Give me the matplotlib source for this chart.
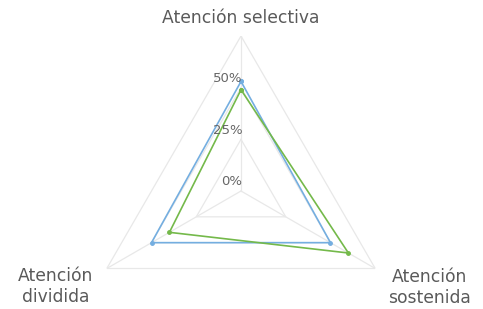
import numpy as np
import matplotlib.pyplot as plt

# categories clockwise from the top
categories = ['Atención selectiva', 'Atención\nsostenida', 'Atención\ndividida']
blue_values = [53, 50, 50]
green_values = [49, 60, 40]
ring_levels = [25, 50, 75]
tick_labels = ['0%', '25%', '50%']
tick_values = [0, 25, 50]

blue = '#74aee0'
green = '#74b94a'
grid_color = '#e8e8e8'
text_color = '#5a5a5a'

theta = np.deg2rad([0, 120, 240])
closed = np.append(theta, theta[0])

fig = plt.figure(figsize=(4.83, 3.09), dpi=100)
R_px = 155
cx, cy = 241, 191
ax = fig.add_axes([(cx - R_px) / 483, (309 - cy - R_px) / 309,
                   2 * R_px / 483, 2 * R_px / 309], projection='polar')
ax.set_theta_offset(np.pi / 2)
ax.set_theta_direction(-1)
ax.set_ylim(0, 75)
ax.grid(False)
ax.spines['polar'].set_visible(False)
ax.set_xticks([])
ax.set_yticks([])
ax.patch.set_alpha(0)

# triangular grid and spokes
for lvl in ring_levels:
    ax.plot(closed, [lvl] * 4, color=grid_color, lw=0.9, zorder=1)
for t in theta:
    ax.plot([t, t], [0, 75], color=grid_color, lw=0.9, zorder=1)

# series
ax.plot(closed, blue_values + blue_values[:1], color=blue, lw=1.2,
        marker='o', ms=2.5, zorder=3)
ax.plot(closed, green_values + green_values[:1], color=green, lw=1.2,
        marker='o', ms=2.5, zorder=4)

# radial tick labels, right-aligned on the top spoke
for v, lab in zip(tick_values, tick_labels):
    ax.annotate(lab, (0, v), xytext=(1, 2), textcoords='offset points',
                ha='right', va='bottom', fontsize=9.5, color='#666666',
                zorder=5)

# category labels
ax.text(0, 83.5, categories[0], ha='center', va='center', fontsize=12.3,
        color=text_color)
ax.text(np.deg2rad(117), 102.6, categories[1], ha='center', va='center',
        fontsize=12.3, color=text_color, linespacing=1.2)
ax.text(np.deg2rad(242.7), 101, categories[2], ha='center', va='center',
        fontsize=12.3, color=text_color, linespacing=1.2)

fig.savefig('out.png', dpi=100)
